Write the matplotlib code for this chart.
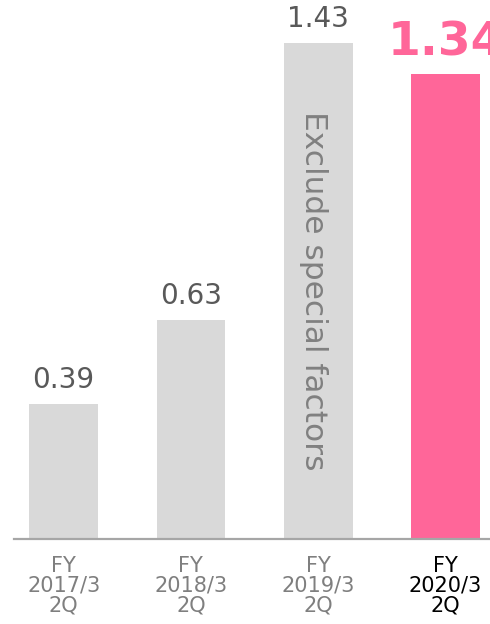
import matplotlib
matplotlib.use("Agg")
import matplotlib.pyplot as plt

periods = ["FY\n2017/3\n2Q", "FY\n2018/3\n2Q", "FY\n2019/3\n2Q", "FY\n2020/3\n2Q"]
values = [0.39, 0.63, 1.43, 1.34]
value_labels = ["0.39", "0.63", "1.43", "1.34"]
note = "Exclude special factors"

grey = "#d9d9d9"
pink = "#ff6699"
bar_colors = [grey, grey, grey, pink]

fig = plt.figure(figsize=(4.9, 6.24), dpi=100)
ax = fig.add_axes([0, 85 / 624, 1, 539 / 624])

x = list(range(len(values)))
bars = ax.bar(x, values, width=0.54, color=bar_colors, zorder=2)

ax.set_xlim(-0.5, 3.35)
ax.set_ylim(0, 1.553)

for spine in ax.spines.values():
    spine.set_visible(False)
ax.axhline(0, xmin=14 / 490, xmax=1, color="#a6a6a6", lw=1.6, zorder=3, clip_on=False)

ax.set_yticks([])
ax.set_xticks(x)
ax.set_xticklabels(periods, fontsize=15, linespacing=1.0)
ax.tick_params(axis="x", length=0, pad=12)
for i, lab in enumerate(ax.get_xticklabels()):
    lab.set_color("black" if i == len(values) - 1 else "#7f7f7f")

for i, (b, v, t) in enumerate(zip(bars, values, value_labels)):
    last = i == len(values) - 1
    ax.annotate(t, (b.get_x() + b.get_width() / 2, v),
                xytext=(0, 13 if last else 11.5), textcoords="offset points",
                ha="center", va="baseline",
                fontsize=34 if last else 20,
                fontweight="bold" if last else "normal",
                color=pink if last else "#595959",
                annotation_clip=False)

ax.text(x[2] - 0.04, values[2] / 2, note, rotation=-90, ha="center", va="center",
        fontsize=22.5, color="#808080", zorder=4)

fig.savefig("out.png", dpi=100)
